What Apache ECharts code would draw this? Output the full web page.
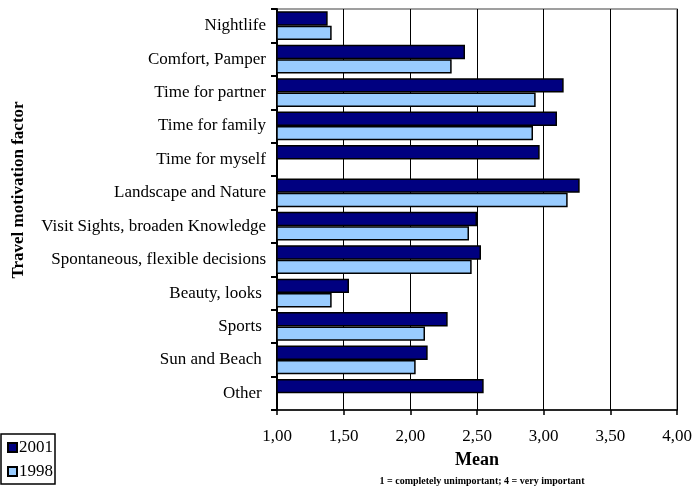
<!DOCTYPE html>
<html>
<head>
<meta charset="utf-8">
<script src="https://cdn.jsdelivr.net/npm/echarts@6/dist/echarts.min.js"></script>
<style>
  html, body { margin: 0; padding: 0; background: #fff; }
  #chart { width: 694px; height: 492px; }
</style>
</head>
<body>
<div id="chart"></div>
<script>
// Travel motivation factors, mean importance by survey year
const categories = [
  'Nightlife',
  'Comfort, Pamper',
  'Time for partner',
  'Time for family',
  'Time for myself',
  'Landscape and Nature',
  'Visit Sights, broaden Knowledge',
  'Spontaneous, flexible decisions',
  'Beauty, looks ',
  'Sports ',
  'Sun and Beach ',
  'Other '
];
const values2001 = [1.38, 2.41, 3.15, 3.10, 2.97, 3.27, 2.50, 2.53, 1.54, 2.28, 2.13, 2.55];
const values1998 = [1.41, 2.31, 2.94, 2.92, null, 3.18, 2.44, 2.46, 1.41, 2.11, 2.04, null];
const xTicks = ['1,00', '1,50', '2,00', '2,50', '3,00', '3,50', '4,00'];

const serif = '"Liberation Serif", "DejaVu Serif", serif';
const chart = echarts.init(document.getElementById('chart'));

chart.setOption({
  animation: false,
  textStyle: { fontFamily: serif, color: '#000' },
  grid: {
    left: 277, right: 17, top: 9, bottom: 82,
    outerBoundsMode: 'none',
    containLabel: false,
    show: true, borderColor: '#808080', borderWidth: 1.5
  },
  legend: {
    orient: 'vertical',
    left: 1,
    top: 434,
    padding: [5, 2, 4, 6],
    itemGap: 7,
    itemWidth: 9,
    itemHeight: 9,
    borderColor: '#000',
    borderWidth: 1.5,
    icon: 'rect',
    textStyle: { fontFamily: serif, fontSize: 17, color: '#000', padding: [0, 0, 0, -3] },
    data: ['2001', '1998']
  },
  title: {
    text: '1 = completely unimportant; 4 = very important',
    left: 477,
    textAlign: 'center',
    top: 471,
    textStyle: { fontFamily: serif, fontSize: 10, fontWeight: 'bold', color: '#000' }
  },
  graphic: [{
    type: 'text',
    x: 19,
    y: 190,
    rotation: Math.PI / 2,
    style: {
      text: 'Travel motivation factor',
      fontFamily: serif,
      fontSize: 17,
      fontWeight: 'bold',
      fill: '#000',
      textAlign: 'center',
      textVerticalAlign: 'middle'
    }
  }],
  xAxis: {
    type: 'value',
    min: 1,
    max: 4,
    interval: 0.5,
    name: 'Mean',
    nameLocation: 'middle',
    nameGap: 41,
    nameTextStyle: { fontFamily: serif, fontSize: 18, fontWeight: 'bold', color: '#000' },
    axisLine: { show: true, lineStyle: { color: '#000', width: 1.5 } },
    axisTick: { show: true, length: 5, lineStyle: { color: '#000', width: 1.5 } },
    axisLabel: {
      margin: 18,
      fontFamily: serif,
      fontSize: 17,
      color: '#000',
      formatter: v => xTicks[Math.round((v - 1) / 0.5)]
    },
    splitLine: { show: true, lineStyle: { color: '#000', width: 1 } }
  },
  yAxis: {
    type: 'category',
    inverse: true,
    data: categories,
    axisLine: { show: true, lineStyle: { color: '#000', width: 2 } },
    axisTick: { show: true, length: 6, lineStyle: { color: '#000', width: 2 } },
    axisLabel: { margin: 11, fontFamily: serif, fontSize: 17, color: '#000' },
    splitLine: { show: false }
  },
  series: [
    {
      name: '2001',
      type: 'bar',
      data: values2001,
      barGap: '0%',
      barCategoryGap: '14%',
      itemStyle: { color: '#000080', borderColor: '#000', borderWidth: 1.5 }
    },
    {
      name: '1998',
      type: 'bar',
      data: values1998,
      itemStyle: { color: '#99CCFF', borderColor: '#000', borderWidth: 1.5 }
    }
  ]
});
</script>
</body>
</html>
